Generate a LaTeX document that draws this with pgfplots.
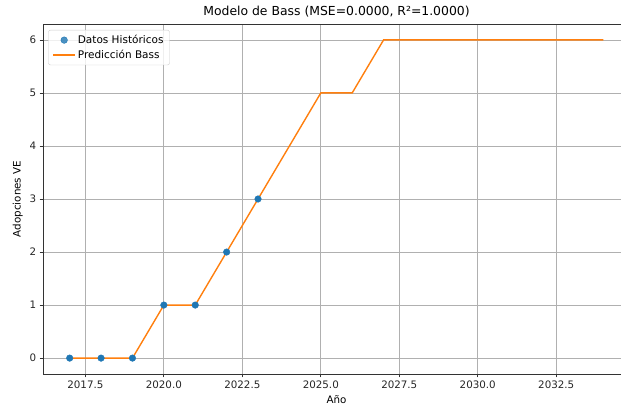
\documentclass[border=0pt]{standalone}
\usepackage{pgfplots}
\pgfplotsset{compat=1.18}
\usepackage{fontspec}
\setmainfont{DejaVu Sans}
\definecolor{cblue}{HTML}{1F77B4}
\definecolor{corange}{HTML}{FF7F0E}
\definecolor{cgrid}{HTML}{B0B0B0}
\pgfplotsset{
  legmark/.style={legend image code/.code={\draw[##1] plot coordinates {(11pt,0pt)};}},
  legline/.style={legend image code/.code={\draw[##1] (0pt,0pt) -- (22pt,0pt);}},
}
\begin{document}
\begin{tikzpicture}
\begin{axis}[
  scale only axis,
  width=587pt, height=350pt,
  xmin=2016.15, xmax=2034.85,
  ymin=-0.3, ymax=6.3,
  xtick={2017.5,2020,2022.5,2025,2027.5,2030,2032.5},
  ytick={0,1,2,3,4,5,6},
  xticklabel style={/pgf/number format/.cd, fixed, fixed zerofill, precision=1, 1000 sep={}},
  /pgf/number format/assume math mode=true,
  tick label style={font=\fontsize{10.3}{12}\selectfont, text=black!85},
  label style={font=\fontsize{10.3}{12}\selectfont},
  xlabel={Año}, ylabel={Adopciones VE},
  title={Modelo de Bass (MSE=0.0000, R²=1.0000)},
  title style={font=\fontsize{12.4}{15}\selectfont, yshift=-3pt},
  grid=major,
  major grid style={cgrid, line width=0.75pt},
  axis line style={black!80, line width=0.75pt},
  tick align=outside, xtick pos=bottom, ytick pos=left,
  major tick length=3.3pt,
  tick style={black!80, line width=0.75pt},
  legend style={at={(0.009,0.983)}, anchor=north west, font=\fontsize{10.5}{12}\selectfont,
    draw=black!20, rounded corners=2pt, fill=white, fill opacity=0.8, text opacity=1,
    row sep=1pt, inner xsep=4pt, inner ysep=3pt,
    /tikz/every even column/.append style={column sep=3pt}},
  legend cell align=left,
]
\addplot[only marks, mark=*, mark size=3.3pt, color=cblue, mark options={draw=cblue, fill=cblue}, legmark] coordinates {
 (2017,0) (2018,0) (2019,0) (2020,1) (2021,1) (2022,2) (2023,3)
};
\addlegendentry{Datos Históricos}
\addplot[color=corange, line width=1.4pt, no marks, legline] coordinates {
 (2017,0) (2018,0) (2019,0) (2020,1) (2021,1) (2022,2) (2023,3) (2024,4) (2025,5) (2026,5)
 (2027,6) (2028,6) (2029,6) (2030,6) (2031,6) (2032,6) (2033,6) (2034,6)
};
\addlegendentry{Predicción Bass}
\end{axis}
\pgfresetboundingbox
\path[use as bounding box] (current axis.south west) ++(-43pt,-36pt) rectangle ++(621pt,410pt);
\end{tikzpicture}
\end{document}
